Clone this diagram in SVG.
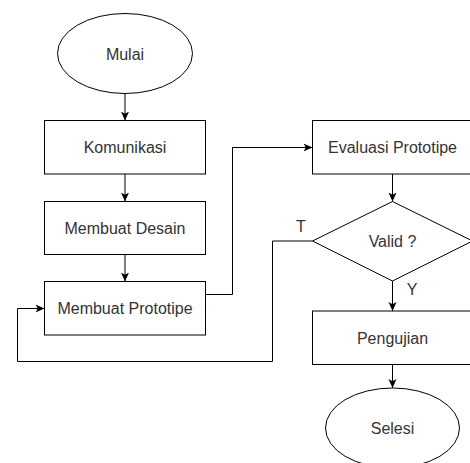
<svg xmlns="http://www.w3.org/2000/svg" width="470" height="463" viewBox="0 0 470 463">
<style>
.s{fill:#fff;stroke:#000;stroke-width:1}
.t{font-family:"Liberation Sans",Arial,sans-serif;font-size:16px;fill:#333;text-anchor:middle}
.c{fill:none;stroke:#000;stroke-width:1;marker-end:url(#ah)}
</style>
<defs>
<marker id="ah" viewBox="0 0 10 10" refX="10" refY="5" markerWidth="9" markerHeight="9" markerUnits="userSpaceOnUse" orient="auto">
<path d="M0,0.5 L10,5 L0,9.5 L2.5,5 z" fill="#000"/>
</marker>
</defs>
<rect width="470" height="463" fill="#fff"/>
<g id="connectors">
<path class="c" d="M125,93.5 V120.5"/>
<path class="c" d="M125,174 V201.5"/>
<path class="c" d="M125,254.5 V281.5"/>
<path class="c" d="M205.5,294.5 H232.5 V147.5 H312.5"/>
<path class="c" d="M392.5,174 V201.5"/>
<path class="c" d="M392.5,281 V311"/>
<path class="c" d="M312.5,241 H272.5 V361.5 H17.5 V308.5 H44.5"/>
<path class="c" d="M392.5,364.5 V388"/>
<text class="t" x="301" y="232">T</text>
<text class="t" x="412" y="295">Y</text>
</g>
<g id="mulai">
<ellipse class="s" cx="125" cy="53.5" rx="67.5" ry="40"/>
<text class="t" x="125" y="59.5">Mulai</text>
</g>
<g id="komunikasi">
<rect class="s" x="44.5" y="120.5" width="161" height="53.5"/>
<text class="t" x="125" y="153">Komunikasi</text>
</g>
<g id="desain">
<rect class="s" x="44.5" y="201.5" width="161" height="53"/>
<text class="t" x="125" y="234">Membuat Desain</text>
</g>
<g id="prototipe">
<rect class="s" x="44.5" y="281.5" width="161" height="53.5"/>
<text class="t" x="125" y="314">Membuat Prototipe</text>
</g>
<g id="evaluasi">
<rect class="s" x="312.5" y="120.5" width="161" height="53.5"/>
<text class="t" x="392.5" y="153">Evaluasi Prototipe</text>
</g>
<g id="valid">
<path class="s" d="M392.5,201.5 L472.5,241 L392.5,281 L312.5,241 Z"/>
<text class="t" x="392.5" y="247">Valid ?</text>
</g>
<g id="pengujian">
<rect class="s" x="312.5" y="311" width="161" height="53.5"/>
<text class="t" x="392.5" y="343.5">Pengujian</text>
</g>
<g id="selesi">
<ellipse class="s" cx="392.5" cy="428" rx="67" ry="40"/>
<text class="t" x="392.5" y="434">Selesi</text>
</g>
</svg>
